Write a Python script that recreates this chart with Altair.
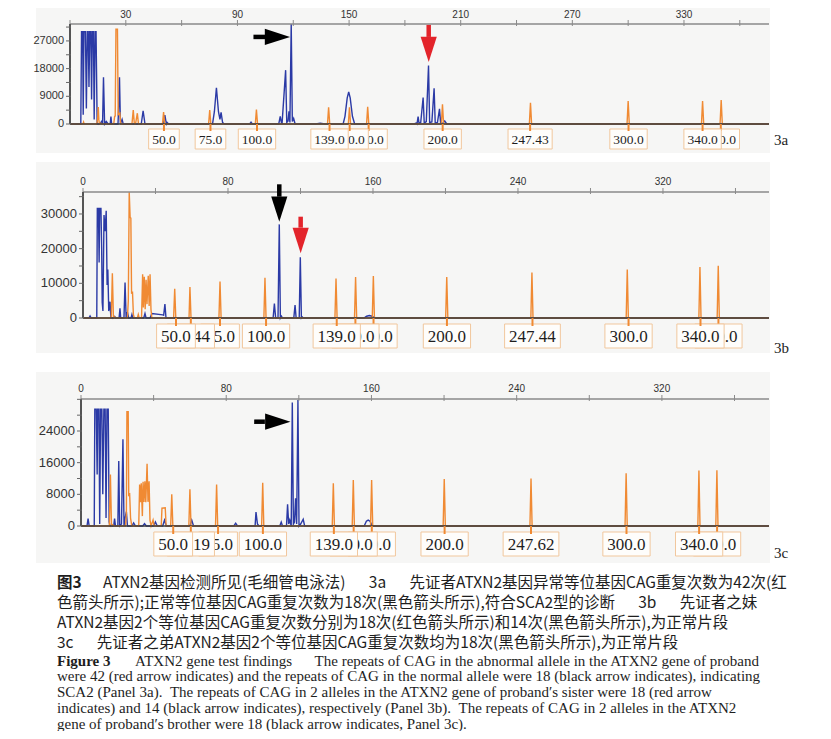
import altair as alt
import pandas as pd

BLUE = "#2b3aa6"
ORANGE = "#f08a33"
RED = "#e3242b"
BOX_FILL = "#fefdfb"
BOX_EDGE = "#f1c79d"
PANEL_BG = "#f6f6f5"

# ---------------- Panel 3a ----------------
A_BLUE = [(0,0),(5.8,0),(6.2,30000),(6.8,30000),(7.1,3000),(7.5,30000),(8.3,30000),(8.8,5000),(9.3,30000),(9.8,30000),
          (10.2,12000),(10.6,30000),(11.2,30000),(11.6,8000),(12.0,30000),(12.6,30000),(13.0,1500),(13.5,30000),(14.0,30000),
          (14.6,0),(16,0),(17.2,1000),(17.5,0),(18.0,15200),(18.6,0),(19.5,800),(20.5,0),(21.6,0),(22.0,2400),(22.4,0),
          (25.8,0),(26.3,8000),(26.6,15200),(27.1,0),(28,1500),(28.6,0),(38.3,0),(39.3,4300),(40.3,0),(50.2,0),(51.0,2900),
          (51.8,0),(52.2,500),(53,0),(76.6,0),(77.6,4000),(78.7,11800),(79.8,4000),(80.6,1500),(81.2,3800),(82,500),(83,0),
          (96.6,0),(97.3,600),(98,0),(112.2,0),(113,2500),(113.6,500),(114,300),(115.9,17500),(116.5,500),(117.2,1000),
          (117.7,4100),(118.2,500),(118.9,32500),(119.5,800),(120.2,1800),(121,0),(132,0),(134.5,250),(137,0),(146.8,0),
          (147.8,2500),(149,8500),(149.8,10400),(150.6,8500),(151.8,2500),(153,0),(185,0),(186,300),(186.5,0),(187.1,2400),
          (187.6,200),(188.5,500),(189.8,8600),(190.4,300),(191.5,800),(192.7,19000),(193.3,500),(194.5,700),(195.7,11600),
          (196.3,300),(197.5,500),(198.6,4900),(199.2,300),(200.5,300),(201.4,1000),(202.5,0),(375.7,0)]
A_ORANGE = [(0,0),(7,0),(7.3,600),(7.6,0),(14.4,0),(14.9,2000),(15.2,5500),(15.5,1500),(15.8,0),(16.5,300),(17,0),
            (23.5,0),(24.0,2500),(24.3,2600),(24.7,30800),(25.5,30800),(25.9,3000),(26.8,3500),(27.3,0),(33.3,0),
            (34.0,4500),(34.6,0),(35.2,0),(36.2,3500),(36.8,0),(49.7,0),(50.3,3900),(50.9,0),(74.5,0),(75.1,4500),
            (75.7,0),(99.6,0),(100.2,4700),(100.8,0),(138.4,0),(139,5400),(139.6,0),(149.6,0),(150.2,5400),(150.8,0),
            (159.4,0),(160,5600),(160.6,0),(199.6,0),(200.2,6400),(200.8,0),(246.9,0),(247.5,6900),(248.1,0),
            (299.4,0),(300,7500),(300.6,0),(339.4,0),(340,7500),(340.6,0),(349.4,0),(350,7800),(350.6,0),(375.7,0)]
A_LABEL_POS = [50.5, 75.5, 100.5, 139.5, 150.3, 160.5, 200.3, 247.3, 300.2, 340.0, 349.8]
A_LABEL_TXT = ["50.0", "75.0", "100.0", "139.0", "150.0", "160.0", "200.0", "247.43", "300.0", "340.0", "350.0"]
A_XTICKS = list(range(0, 361, 30))
A_XTICK_LABELS = ["", "30", "", "90", "", "150", "", "210", "", "270", "", "330", ""]
A_YTICKS = list(range(0, 31501, 4500))
A_YTICK_LABELS = ["0", "", "9000", "", "18000", "", "27000", ""]
# arrows: (x_tail, y_tail, x_headstart, y_headstart, x_headcenter, y_headcenter, direction, colour)
A_ARROWS = [(98.6, 28300, 104.8, 28300, 111.5, 28300, "right", "black"),
            (192.8, 32200, 192.8, 28300, 192.8, 24235, "down", RED)]

# ---------------- Panel 3b ----------------
B_BLUE = [(0,0),(3.3,0),(3.9,600),(4.5,0),(7.6,0),(7.9,31600),(8.5,31600),(8.9,16000),(9.2,31600),(9.9,31600),
          (10.3,20000),(10.6,4500),(11.0,2000),(11.6,29700),(12.2,25000),(12.8,30900),(13.3,9500),(13.7,14000),
          (14.2,2000),(14.9,4700),(15.4,0),(17,0),(17.5,400),(18,0),(19.9,0),(20.4,2800),(20.8,0),(22.6,0),
          (23.2,10200),(23.8,0),(24.5,1700),(25.2,0),(26.5,0),(27,1000),(27.5,0),(33.5,0),(34.2,1300),(34.8,0),
          (37,0),(38,1300),(44,900),(44.5,800),(45.2,4000),(45.8,0),(104.9,0),(105.6,4200),(106.3,0),(107.6,0),
          (108.3,27000),(108.9,0),(109.5,500),(110,0),(116.3,0),(117,3700),(117.6,0),(119.3,0),(119.9,17500),
          (120.5,0),(121,300),(121.5,0),(155,0),(156.5,500),(158,700),(159.5,500),(161,0),(378.5,0)]
B_ORANGE = [(0,0),(15.6,0),(16.2,12900),(16.8,0),(17.5,300),(18,0),(24.5,0),(25.0,5000),(25.5,36300),(26.0,29000),
            (26.4,28800),(26.8,7000),(27.3,7600),(27.8,1000),(28.3,0),(30.0,0),(30.5,1000),(31,0),(32.3,0),
            (32.9,12600),(33.3,3000),(33.8,11900),(34.3,2500),(34.8,11000),(35.3,4000),(36,12200),(36.5,3500),
            (37.0,12600),(37.5,2500),(38.0,0),(50.0,0),(50.6,8400),(51.2,0),(58.5,0),(59.0,8900),(59.6,0),(75,0),
            (75.6,10500),(76.2,0),(99.8,0),(100.4,11600),(101,0),(139,0),(139.6,11400),(140.2,0),(149.8,0),
            (150.4,11800),(151,0),(159.6,0),(160.2,12100),(160.8,0),(200.1,0),(200.7,11800),(201.3,0),(247.1,0),
            (247.7,13100),(248.3,0),(299.7,0),(300.3,14000),(300.9,0),(339.8,0),(340.4,14700),(341,0),(349.9,0),
            (350.5,15100),(351.1,0),(378.5,0)]
B_LABEL_POS = [51.3, 59.5, 75.6, 101.0, 140.0, 150.3, 160.3, 200.8, 248.0, 301.0, 340.7, 350.6]
B_LABEL_TXT = ["50.0", "58.44", "75.0", "100.0", "139.0", "150.0", "160.0", "200.0", "247.44", "300.0", "340.0", "350.0"]
B_XTICKS = list(range(0, 361, 40))
B_XTICK_LABELS = ["0", "", "80", "", "160", "", "240", "", "320", ""]
B_YTICKS = list(range(0, 35001, 5000))
B_YTICK_LABELS = ["0", "", "10000", "", "20000", "", "30000", ""]
B_ARROWS = [(108.3, 38560, 108.3, 34990, 108.3, 31380, "down", "black"),
            (120.1, 29220, 120.1, 26050, 120.1, 22350, "down", RED)]

# ---------------- Panel 3c ----------------
C_BLUE = [(0,0),(3.3,0),(3.9,1900),(4.5,0),(7.3,0),(7.6,29500),(8.4,29500),(8.9,13000),(9.2,29500),(9.9,29500),
          (10.3,500),(10.8,29500),(11.5,29500),(12.0,8000),(12.6,29500),(13.3,29500),(13.8,2000),(14.3,29500),
          (15.0,29500),(15.5,1000),(16,0),(18.0,0),(18.5,1900),(19.0,0),(20.3,0),(20.8,16400),(21.3,0),(22.3,500),
          (23.1,21900),(23.7,0),(24.3,2000),(25.0,3600),(25.6,0),(28,0),(29,800),(30,0),(34,0),(35,600),(36,0),
          (40,0),(41,1000),(42,0),(45,0),(46,1500),(47,0),(60,0),(61,1500),(62,0),(84.2,0),(85.2,700),(86.2,0),
          (95.9,0),(96.4,3500),(97.2,500),(98,0),(109.5,0),(110.3,1000),(111,0),(113.2,0),(113.8,5500),(114.4,500),
          (115,1500),(115.8,0),(116.4,31200),(117,500),(117.6,1000),(118.2,7000),(118.8,500),(119.5,31800),
          (120.1,0),(121,500),(122.4,1700),(123.2,0),(156,0),(157.2,1200),(158.2,1500),(159.2,1200),(160.5,0),(379,0)]
C_ORANGE = [(0,0),(15.6,0),(16.2,13000),(16.8,0),(17.5,300),(18,0),(24.5,0),(25.0,3000),(25.3,28900),(26.0,28900),
            (26.3,7800),(26.8,8000),(27.3,2000),(28,0),(31.8,0),(32.3,10500),(32.8,6000),(33.2,10800),(33.8,2500),
            (34.2,11200),(34.7,6100),(35.2,11300),(35.7,6000),(36.4,15700),(36.9,6100),(37.5,11300),(38.0,1500),
            (38.6,0),(39.7,1500),(40.3,0),(44.2,0),(44.6,4500),(46.4,4600),(46.9,0),(49.4,0),(50,8000),(50.6,0),
            (59.4,0),(60,9300),(60.6,0),(74.1,0),(74.7,10500),(75.3,0),(99.5,0),(100.1,10900),(100.7,0),(138.4,0),
            (139,10800),(139.6,0),(149.4,0),(150,11600),(150.6,0),(159.5,0),(160.1,11600),(160.7,0),(199.5,0),
            (200.1,11900),(200.7,0),(247.3,0),(247.9,12000),(248.5,0),(299.7,0),(300.3,13300),(300.9,0),(339.8,0),
            (340.4,14000),(341,0),(349.7,0),(350.3,14100),(350.9,0),(379,0)]
C_LABEL_POS = [50.8, 60.5, 75.5, 100.2, 139.3, 150.2, 160.2, 200.3, 247.9, 300.5, 340.5, 350.4]
C_LABEL_TXT = ["50.0", "60.19", "75.0", "100.0", "139.0", "150.0", "160.0", "200.0", "247.62", "300.0", "340.0", "350.0"]
C_XTICKS = list(range(0, 361, 40))
C_XTICK_LABELS = ["0", "", "80", "", "160", "", "240", "", "320", ""]
C_YTICKS = list(range(0, 32001, 4000))
C_YTICK_LABELS = ["0", "", "8000", "", "16000", "", "24000", "", ""]
C_ARROWS = [(95.4, 26350, 101.3, 26350, 108.4, 26350, "right", "black")]

GAP_CN = "\u3000\u2002"
GAP_EN = "\u2003\u2002"
CN_BOLD = "图3"
CN_LINES = [
    "ATXN2基因检测所见(毛细管电泳法)" + GAP_CN + "3a" + GAP_CN + "先证者ATXN2基因异常等位基因CAG重复次数为42次(红",
    "色箭头所示);正常等位基因CAG重复次数为18次(黑色箭头所示),符合SCA2型的诊断" + GAP_CN + "3b" + GAP_CN + "先证者之妹",
    "ATXN2基因2个等位基因CAG重复次数分别为18次(红色箭头所示)和14次(黑色箭头所示),为正常片段",
    "3c" + GAP_CN + "先证者之弟ATXN2基因2个等位基因CAG重复次数均为18次(黑色箭头所示),为正常片段",
]
EN_BOLD = "Figure 3"
EN_LINES = [
    "ATXN2 gene test findings" + GAP_EN + "The repeats of CAG in the abnormal allele in the ATXN2 gene of proband",
    "were 42 (red arrow indicates) and the repeats of CAG in the normal allele were 18 (black arrow indicates), indicating",
    "SCA2 (Panel 3a).\u2002The repeats of CAG in 2 alleles in the ATXN2 gene of proband′s sister were 18 (red arrow",
    "indicates) and 14 (black arrow indicates), respectively (Panel 3b).\u2002The repeats of CAG in 2 alleles in the ATXN2",
    "gene of proband′s brother were 18 (black arrow indicates, Panel 3c).",
]
PANEL_TAGS = ["3a", "3b", "3c"]

HEAD_RIGHT = "M-1,-0.64L1,0L-1,0.64Z"
HEAD_DOWN = "M-0.64,-1L0,1L0.64,-1Z"
AXIS_FONT = "Liberation Sans"


def trace_df(pts):
    return pd.DataFrame({"x": [p[0] for p in pts], "y": [p[1] for p in pts], "i": list(range(len(pts)))})


def panel(blue, orange, lpos, ltxt, arrows, xdom, xrng, ydom, yrng, xticks, xlabels, yticks, ylabels,
          ylabsize, fs, pad, boxtop, boxh, xlab_gap):
    xs = alt.Scale(domain=xdom, range=xrng, nice=False, zero=False)
    ys = alt.Scale(domain=ydom, range=yrng, nice=False, zero=False)
    X = lambda f: alt.X(f, scale=xs, axis=None)
    Y = lambda f: alt.Y(f, scale=ys, axis=None)
    left, top, bottom = xrng[0], yrng[1], yrng[0]

    layers = []
    layers.append(alt.Chart(trace_df(blue)).mark_line(color=BLUE, strokeWidth=1.4, strokeJoin="miter").encode(
        x=X("x:Q"), y=Y("y:Q"), order="i:Q"))
    layers.append(alt.Chart(trace_df(orange)).mark_line(color=ORANGE, strokeWidth=1.4, strokeJoin="miter").encode(
        x=X("x:Q"), y=Y("y:Q"), order="i:Q"))
    base = pd.DataFrame({"x": [xdom[0]], "x1": [xdom[1]], "y": [0]})
    layers.append(alt.Chart(base).mark_rule(color="#3a3a3a", strokeWidth=1.3).encode(
        x=X("x:Q"), x2="x1:Q", y=Y("y:Q")))

    # top axis (drawn with the x scale)
    xt = pd.DataFrame({"v": xticks, "t": xlabels})
    layers.append(alt.Chart(base).mark_rule(color="#8a8a8a", strokeWidth=1.3).encode(
        x=X("x:Q"), x2="x1:Q", y=alt.value(top)))
    layers.append(alt.Chart(xt).mark_rule(color="#8a8a8a", strokeWidth=1).encode(
        x=X("v:Q"), y=alt.value(top - 4), y2=alt.value(top + 2)))
    layers.append(alt.Chart(xt).mark_text(font=AXIS_FONT, fontSize=10, color="#333", baseline="middle").encode(
        x=X("v:Q"), y=alt.value(top - xlab_gap), text="t:N"))
    # left axis (drawn with the y scale)
    yt = pd.DataFrame({"v": yticks, "t": ylabels})
    layers.append(alt.Chart(yt).mark_rule(color="#555", strokeWidth=1.2).encode(
        x=alt.value(left), y=alt.value(bottom), y2=alt.value(top)))
    layers.append(alt.Chart(yt).mark_rule(color="#666", strokeWidth=1).encode(
        y=Y("v:Q"), x=alt.value(left - 4), x2=alt.value(left + 1)))
    layers.append(alt.Chart(yt).mark_text(font=AXIS_FONT, fontSize=ylabsize, color="#333", baseline="middle",
                                          align="right").encode(
        y=Y("v:Q"), x=alt.value(left - 6), text="t:N"))

    ppu = (xrng[1] - xrng[0]) / (xdom[1] - xdom[0])
    widths = [sum(0.25 if c == "." else 0.5 for c in t) * fs + pad for t in ltxt]
    lab = pd.DataFrame({"p": lpos, "t": ltxt, "k": list(range(len(lpos)))})
    lab["x0"] = [p - w / 2 / ppu for p, w in zip(lpos, widths)]
    lab["x1"] = [p + w / 2 / ppu for p, w in zip(lpos, widths)]
    for k in sorted(range(len(lpos)), key=lambda j: -lpos[j]):
        src = alt.Chart(lab).transform_filter(alt.datum.k == k)
        layers.append(src.mark_rect(fill=BOX_FILL, stroke=BOX_EDGE, strokeWidth=1).encode(
            x=X("x0:Q"), x2="x1:Q", y=alt.value(boxtop), y2=alt.value(boxtop + boxh)))
        layers.append(src.mark_rule(color=ORANGE, strokeWidth=2).encode(
            x=X("p:Q"), y=alt.value(bottom), y2=alt.value(boxtop + 2)))
        layers.append(src.mark_text(font="Liberation Serif", fontSize=fs, color="#1e1e1e", baseline="middle",
                                    align="center", dy=1).encode(
            x=X("p:Q"), y=alt.value(boxtop + boxh / 2), text="t:N"))

    for (xt_, yt_, xh, yh, xc, yc, d, col) in arrows:
        adf = pd.DataFrame({"x": [xt_], "y": [yt_], "x1": [xh], "y1": [yh], "xc": [xc], "yc": [yc]})
        layers.append(alt.Chart(adf).mark_rule(color=col, strokeWidth=4.5).encode(
            x=X("x:Q"), x2="x1:Q", y=Y("y:Q"), y2="y1:Q"))
        layers.append(alt.Chart(adf).mark_point(shape=HEAD_RIGHT if d == "right" else HEAD_DOWN, size=640,
                                                filled=True, fill=col, strokeWidth=0, opacity=1).encode(
            x=X("xc:Q"), y=Y("yc:Q")))
    return alt.layer(*layers)


def rect_bg(x0, y0, x1, y1):
    return alt.Chart().mark_rect(fill=PANEL_BG).encode(
        x=alt.value(x0), x2=alt.value(x1), y=alt.value(y0), y2=alt.value(y1))


def txt(s, x, y, size, font, weight="normal", color="#1e1e1e"):
    return alt.Chart().mark_text(font=font, fontSize=size, fontWeight=weight, color=color, align="left",
                                 baseline="middle").encode(x=alt.value(x), y=alt.value(y), text=alt.value(s))


pa = panel(A_BLUE, A_ORANGE, A_LABEL_POS, A_LABEL_TXT, A_ARROWS, [0, 375.7], [62, 761], [0, 32500], [116, 16],
           A_XTICKS, A_XTICK_LABELS, A_YTICKS, A_YTICK_LABELS, 11, 13.5, 7, 121, 20, 9)
pb = panel(B_BLUE, B_ORANGE, B_LABEL_POS, B_LABEL_TXT, B_ARROWS, [0, 378.5], [75, 761], [0, 36340], [310, 184],
           B_XTICKS, B_XTICK_LABELS, B_YTICKS, B_YTICK_LABELS, 13, 17, 9, 316, 24, 10)
pc = panel(C_BLUE, C_ORANGE, C_LABEL_POS, C_LABEL_TXT, C_ARROWS, [0, 379], [73, 761], [0, 32085], [518, 391],
           C_XTICKS, C_XTICK_LABELS, C_YTICKS, C_YTICK_LABELS, 13, 17, 9, 524, 24, 10)

decor = [rect_bg(28, 0, 762, 145), rect_bg(28, 154, 762, 345), rect_bg(28, 364, 762, 555)]
tags = [txt(PANEL_TAGS[0], 766, 132, 15, "Liberation Serif"),
        txt(PANEL_TAGS[1], 766, 340, 15, "Liberation Serif"),
        txt(PANEL_TAGS[2], 766, 545, 15, "Liberation Serif")]
CN_SIZE = 15.5
EN_SIZE = 15.0
cap = [txt(CN_BOLD, 49, 575, CN_SIZE, "Noto Sans CJK SC", "bold")]
cn_y = [575, 595, 615, 635]
cn_x = [95, 49, 49, 49]
for s, yy, xx in zip(CN_LINES, cn_y, cn_x):
    cap.append(txt(s, xx, yy, CN_SIZE, "Noto Sans CJK SC"))
cap.append(txt(EN_BOLD, 49, 653, EN_SIZE, "Liberation Serif", "bold"))
en_y = [653, 668, 684, 700, 716]
en_x = [127, 49, 49, 49, 49]
for s, yy, xx in zip(EN_LINES, en_y, en_x):
    cap.append(txt(s, xx, yy, EN_SIZE, "Liberation Serif"))

chart = alt.layer(*decor, pa, pb, pc, *tags, *cap).resolve_scale(
    x="independent", y="independent").properties(
    width=815, height=723, padding=0, autosize=alt.AutoSizeParams(type="none"),
    background="white").configure_view(stroke=None)

chart.save("out.html", embed_options={"renderer": "svg", "actions": False})
